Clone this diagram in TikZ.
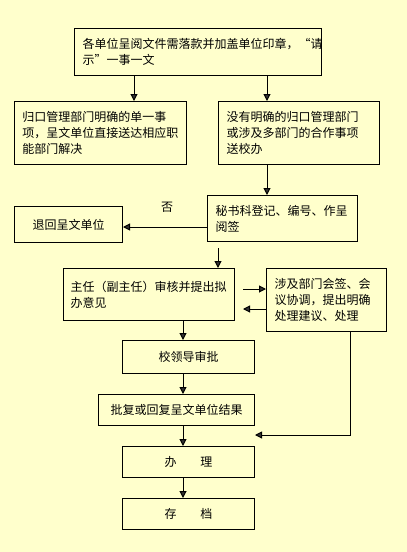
\documentclass[tikz,border=0pt]{standalone}
\usepackage{fontspec}
\newfontfamily\cjk{Noto Sans CJK SC}
\usetikzlibrary{arrows.meta}
\definecolor{bgyellow}{RGB}{255,255,204}
\definecolor{tipgray}{RGB}{51,51,51}

\begin{document}
\begin{tikzpicture}[x=1pt, y=-1pt,
  box/.style={draw, line width=1pt, inner xsep=8pt, inner ysep=2pt, anchor=north west,
    font=\cjk\fontsize{12pt}{16pt}\selectfont},
  arr/.style={line width=1pt, -{Triangle[width=7pt, length=7pt, fill=tipgray]}}]
% Background
\fill[bgyellow] (0,0) rectangle (407,552);
\useasboundingbox (0,0) rectangle (407,552);

% Boxes
\node[box, minimum width=247pt, minimum height=47pt, text width=231pt, align=left] (top) at (74,28)
  {各单位呈阅文件需落款并加盖单位印章，“请\\示”一事一文};
\node[box, minimum width=172pt, minimum height=63pt, text width=156pt, align=left] (single) at (14,101)
  {归口管理部门明确的单一事\\项，呈文单位直接送达相应职\\能部门解决};
\node[box, minimum width=161pt, minimum height=63pt, text width=145pt, align=left] (multi) at (218,101)
  {没有明确的归口管理部门\\或涉及多部门的合作事项\\送校办};
\node[box, minimum width=150pt, minimum height=46pt, text width=134pt, align=left] (secr) at (207,195)
  {秘书科登记、编号、作呈\\阅签};
\node[box, minimum width=108pt, minimum height=36pt, text width=92pt, align=center] (back) at (14,206)
  {退回呈文单位};
\node[box, minimum width=171pt, minimum height=52pt, inner xsep=7pt, text width=157pt, align=left] (head) at (63,268)
  {主任（副主任）审核并提出拟\\办意见};
\node[box, minimum width=120pt, minimum height=63pt, text width=104pt, align=left] (meet) at (266,268)
  {涉及部门会签、会\\议协调，提出明确\\处理建议、处理};
\node[box, minimum width=132pt, minimum height=33pt, text width=116pt, align=center] (lead) at (122,340)
  {校领导审批};
\node[box, minimum width=156pt, minimum height=31pt, text width=140pt, align=center] (reply) at (98,394)
  {批复或回复呈文单位结果};
\node[box, minimum width=132pt, minimum height=31pt, text width=116pt, align=center] (handle) at (122,446)
  {办\hspace{2em}理};
\node[box, minimum width=132pt, minimum height=31pt, text width=116pt, align=center] (store) at (122,498)
  {存\hspace{2em}档};

\node[font=\cjk\fontsize{12pt}{16pt}\selectfont] (no) at (167,207) {否};

% Connector positions
\coordinate (xa) at (134,0);
\coordinate (xb) at (267,0);
\coordinate (xc) at (218,248);
\coordinate (xd) at (183,0);
\coordinate (yr) at (0,227);
\coordinate (ya) at (243,289);
\coordinate (yb) at (243,309);
\coordinate (xe) at (350,435);
\coordinate (ye) at (255,435);

% Connectors
\draw[arr] (top.south -| xa) -- (single.north -| xa);
\draw[arr] (top.south -| xb) -- (multi.north -| xb);
\draw[arr] (multi.south -| xb) -- (secr.north -| xb);
\draw[arr] (secr.west |- yr) -- (back.east |- yr);
\draw[arr] (xc) -- (head.north -| xc);
\draw[arr] (ya) -- (meet.west |- ya);
\draw[arr] (meet.west |- yb) -- (yb);
\draw[arr] (head.south -| xd) -- (lead.north -| xd);
\draw[arr] (lead.south -| xd) -- (reply.north -| xd);
\draw[arr] (reply.south -| xd) -- (handle.north -| xd);
\draw[arr] (handle.south -| xd) -- (store.north -| xd);
\draw[arr] (meet.south -| xe) -- (xe) -- (ye);

\end{tikzpicture}
\end{document}
